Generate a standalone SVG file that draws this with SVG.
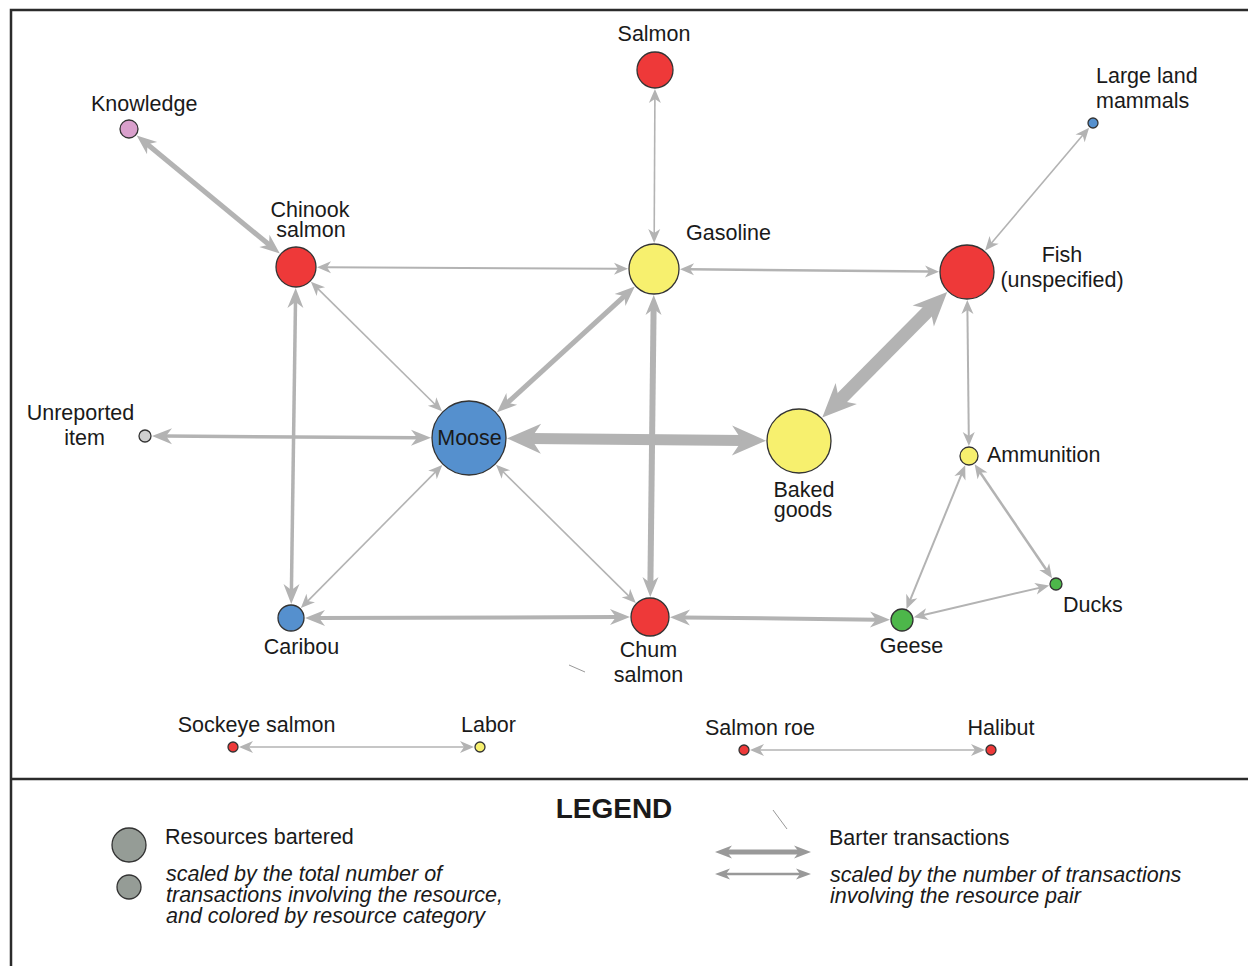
<svg xmlns="http://www.w3.org/2000/svg" width="1248" height="966" viewBox="0 0 1248 966">
<style>
text{font-family:"Liberation Sans",Arial,sans-serif;font-size:21.5px;fill:#1a1a1a}
.c{text-anchor:middle}
.it{font-style:italic}
.e{stroke:#b3b3b3;fill:none}
.n{stroke:#333;stroke-width:1.3}
.red{fill:#ee3939}.yel{fill:#f7f06e}.blu{fill:#5590ce}.grn{fill:#4db74a}.pnk{fill:#d9a0cc}.gry{fill:#d0d0d0}.lg{fill:#959c96}
.le{stroke:#999;fill:none}
</style>
<defs>
<marker id="aS" markerUnits="userSpaceOnUse" orient="auto-start-reverse" overflow="visible" markerWidth="1" markerHeight="1" refX="0" refY="0"><path d="M9,0 L-5,-6 L-1,0 L-5,6 Z" fill="#b3b3b3"/></marker>
<marker id="aM" markerUnits="userSpaceOnUse" orient="auto-start-reverse" overflow="visible" markerWidth="1" markerHeight="1" refX="0" refY="0"><path d="M13,0 L-7,-8 L-1,0 L-7,8 Z" fill="#b3b3b3"/></marker>
<marker id="aL" markerUnits="userSpaceOnUse" orient="auto-start-reverse" overflow="visible" markerWidth="1" markerHeight="1" refX="0" refY="0"><path d="M23,0 L-11,-15 L-1,0 L-11,15 Z" fill="#b3b3b3"/></marker>
<marker id="lT" markerUnits="userSpaceOnUse" orient="auto-start-reverse" overflow="visible" markerWidth="1" markerHeight="1" refX="0" refY="0"><path d="M11,0 L-6,-6.5 L-1,0 L-6,6.5 Z" fill="#999"/></marker>
<marker id="lS" markerUnits="userSpaceOnUse" orient="auto-start-reverse" overflow="visible" markerWidth="1" markerHeight="1" refX="0" refY="0"><path d="M10,0 L-5,-5.5 L-1,0 L-5,5.5 Z" fill="#999"/></marker>
</defs>
<rect x="0" y="0" width="1248" height="966" fill="#fff"/>
<g id="frame" stroke="#2b2b2b" stroke-width="2.5" fill="none">
<path d="M11,966 L11,10 L1248,10"/>
<path d="M11,779 L1248,779"/>
</g>
<g id="connectors">
<line class="e" x1="146.7" y1="143.7" x2="269.8" y2="245.3" stroke-width="5" marker-start="url(#aM)" marker-end="url(#aM)"/>
<line class="e" x1="654.9" y1="98" x2="654.2" y2="234" stroke-width="1.6" marker-start="url(#aS)" marker-end="url(#aS)"/>
<line class="e" x1="1083.3" y1="134.5" x2="990.9" y2="243.7" stroke-width="1.6" marker-start="url(#aS)" marker-end="url(#aS)"/>
<line class="e" x1="326" y1="267.2" x2="619" y2="268.8" stroke-width="2" marker-start="url(#aS)" marker-end="url(#aS)"/>
<line class="e" x1="689" y1="269.3" x2="930" y2="271.6" stroke-width="2.5" marker-start="url(#aS)" marker-end="url(#aS)"/>
<line class="e" x1="317.3" y1="288.1" x2="435.6" y2="405" stroke-width="1.6" marker-start="url(#aS)" marker-end="url(#aS)"/>
<line class="e" x1="625.2" y1="295.3" x2="506.6" y2="403.6" stroke-width="5" marker-start="url(#aM)" marker-end="url(#aM)"/>
<line class="e" x1="931" y1="308.2" x2="838.5" y2="401.3" stroke-width="13" marker-start="url(#aL)" marker-end="url(#aL)"/>
<line class="e" x1="967.4" y1="309" x2="968.8" y2="437" stroke-width="2" marker-start="url(#aS)" marker-end="url(#aS)"/>
<line class="e" x1="165" y1="436.1" x2="418" y2="437.7" stroke-width="3.5" marker-start="url(#aM)" marker-end="url(#aM)"/>
<line class="e" x1="530" y1="438.6" x2="743" y2="440.5" stroke-width="11" marker-start="url(#aL)" marker-end="url(#aL)"/>
<line class="e" x1="653.6" y1="308" x2="650.4" y2="584" stroke-width="6" marker-start="url(#aM)" marker-end="url(#aM)"/>
<line class="e" x1="295.5" y1="301" x2="291.4" y2="591" stroke-width="3.5" marker-start="url(#aM)" marker-end="url(#aM)"/>
<line class="e" x1="436" y1="471.4" x2="307.2" y2="601.6" stroke-width="1.6" marker-start="url(#aS)" marker-end="url(#aS)"/>
<line class="e" x1="502.4" y1="471" x2="629.4" y2="596.6" stroke-width="1.6" marker-start="url(#aS)" marker-end="url(#aS)"/>
<line class="e" x1="318" y1="617.9" x2="617" y2="617.1" stroke-width="4" marker-start="url(#aM)" marker-end="url(#aM)"/>
<line class="e" x1="683" y1="617.4" x2="877" y2="619.7" stroke-width="4" marker-start="url(#aM)" marker-end="url(#aM)"/>
<line class="e" x1="961.8" y1="473.6" x2="909.9" y2="600.6" stroke-width="2" marker-start="url(#aS)" marker-end="url(#aS)"/>
<line class="e" x1="979.7" y1="471.7" x2="1047" y2="570.8" stroke-width="2.5" marker-start="url(#aS)" marker-end="url(#aS)"/>
<line class="e" x1="922.5" y1="615.2" x2="1040.4" y2="587.6" stroke-width="2" marker-start="url(#aS)" marker-end="url(#aS)"/>
<line class="e" x1="248" y1="747" x2="465" y2="747" stroke-width="1.6" marker-start="url(#aS)" marker-end="url(#aS)"/>
<line class="e" x1="759" y1="750" x2="976" y2="750" stroke-width="1.6" marker-start="url(#aS)" marker-end="url(#aS)"/>
</g>
<g id="node-salmon"><circle class="n red" cx="655" cy="70" r="18"/><text class="c" x="654" y="41">Salmon</text></g>
<g id="node-knowledge"><circle class="n pnk" cx="129" cy="129" r="9"/><text x="91" y="111">Knowledge</text></g>
<g id="node-large-land-mammals"><circle class="n blu" cx="1093" cy="123" r="5"/><text x="1096" y="83">Large land<tspan x="1096" dy="25">mammals</tspan></text></g>
<g id="node-chinook-salmon"><circle class="n red" cx="296" cy="267" r="20"/><text class="c" x="310" y="217">Chinook<tspan x="311" dy="20">salmon</tspan></text></g>
<g id="node-gasoline"><circle class="n yel" cx="654" cy="269" r="25"/><text x="686" y="240">Gasoline</text></g>
<g id="node-fish"><circle class="n red" cx="967" cy="272" r="27"/><text class="c" x="1062" y="262">Fish<tspan x="1062" dy="25">(unspecified)</tspan></text></g>
<g id="node-unreported-item"><circle class="n gry" cx="145" cy="436" r="6"/><text class="c" x="80.5" y="420">Unreported<tspan x="84.5" dy="25">item</tspan></text></g>
<g id="node-moose"><circle class="n blu" cx="469" cy="438" r="37"/><text class="c" x="469.5" y="445">Moose</text></g>
<g id="node-baked-goods"><circle class="n yel" cx="799" cy="441" r="32"/><text class="c" x="804" y="497">Baked<tspan x="803" dy="20">goods</tspan></text></g>
<g id="node-ammunition"><circle class="n yel" cx="969" cy="456" r="9"/><text x="987" y="462">Ammunition</text></g>
<g id="node-caribou"><circle class="n blu" cx="291" cy="618" r="13"/><text class="c" x="301.5" y="654">Caribou</text></g>
<g id="node-chum-salmon"><circle class="n red" cx="650" cy="617" r="19"/><text class="c" x="648.5" y="657">Chum<tspan x="648.5" dy="25">salmon</tspan></text></g>
<g id="node-geese"><circle class="n grn" cx="902" cy="620" r="11"/><text class="c" x="911.5" y="653">Geese</text></g>
<g id="node-ducks"><circle class="n grn" cx="1056" cy="584" r="6"/><text x="1063" y="612">Ducks</text></g>
<g id="node-sockeye-salmon"><circle class="n red" cx="233" cy="747" r="5"/><text class="c" x="256.5" y="732">Sockeye salmon</text></g>
<g id="node-labor"><circle class="n yel" cx="480" cy="747" r="5"/><text class="c" x="488.5" y="732">Labor</text></g>
<g id="node-salmon-roe"><circle class="n red" cx="744" cy="750" r="5"/><text class="c" x="760" y="735">Salmon roe</text></g>
<g id="node-halibut"><circle class="n red" cx="991" cy="750" r="5"/><text class="c" x="1001" y="735">Halibut</text></g>
<g id="marks" stroke="#999" stroke-width="1">
<line x1="569" y1="665" x2="585" y2="672"/>
<line x1="773" y1="810" x2="787" y2="829"/>
</g>
<g id="legend">
<text class="c" x="614" y="818" style="font-size:28px;font-weight:bold">LEGEND</text>
<circle class="n lg" cx="129" cy="845" r="17"/>
<circle class="n lg" cx="129" cy="887" r="12"/>
<text x="165" y="844">Resources bartered</text>
<text class="it" x="166" y="881">scaled by the total number of<tspan x="166" dy="21">transactions involving the resource,</tspan><tspan x="166" dy="21">and colored by resource category</tspan></text>
<line class="le" x1="726" y1="852" x2="800" y2="852" stroke-width="5" marker-start="url(#lT)" marker-end="url(#lT)"/>
<line class="le" x1="725" y1="874" x2="801" y2="874" stroke-width="2.5" marker-start="url(#lS)" marker-end="url(#lS)"/>
<text x="829" y="845">Barter transactions</text>
<text class="it" x="830" y="882">scaled by the number of transactions<tspan x="830" dy="21">involving the resource pair</tspan></text>
</g>
</svg>
